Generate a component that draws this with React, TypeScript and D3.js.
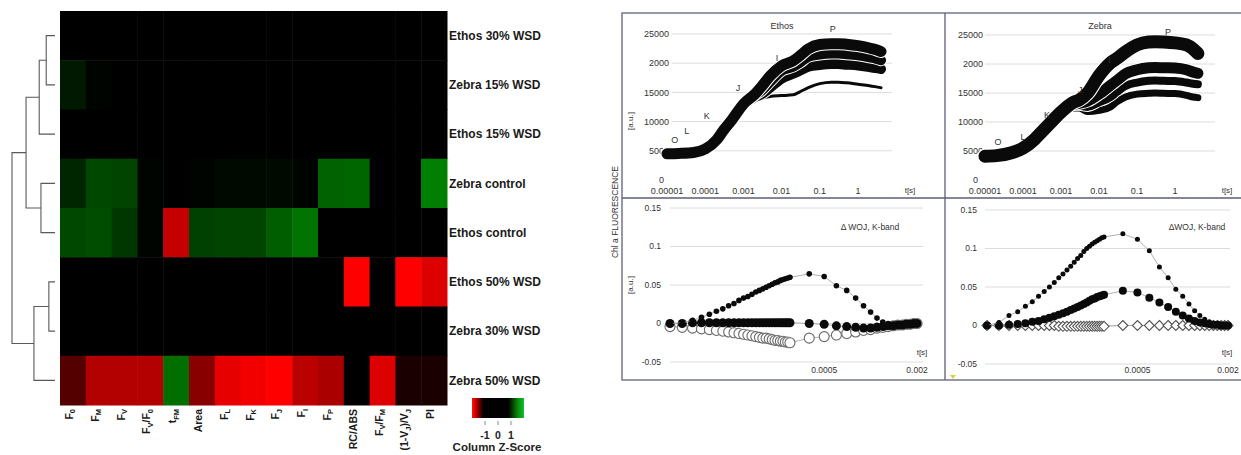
import React from "react";
import * as d3 from "d3";

// ---------------- Heatmap data ----------------
const rowLabels = [
  "Ethos 30% WSD",
  "Zebra 15% WSD",
  "Ethos 15% WSD",
  "Zebra control",
  "Ethos control",
  "Ethos 50% WSD",
  "Zebra 30% WSD",
  "Zebra 50% WSD",
];
const colLabels = [
  "F_0", "F_M", "F_V", "F_V/F_0", "t_{FM}", "Area", "F_L", "F_K", "F_J", "F_I", "F_P",
  "RC/ABS", "F_V/F_M", "(1-V_J)/V_J", "PI",
];
const zEthos30 = [0, 0, 0, 0, 0, 0, 0, 0, 0, 0, 0, 0, 0, 0, 0];
const zZebra15 = [0.3, 0.05, 0, 0, 0, 0, 0, 0, 0, 0, 0, 0, 0, 0, 0];
const zEthos15 = [0, 0, 0, 0, 0, 0, 0, 0, 0, 0, 0, 0, 0, 0, 0];
const zZebraCtrl = [0.45, 0.85, 0.8, 0.05, 0, 0.05, 0.1, 0.1, 0.1, 0.05, 1.15, 1.2, 0, 0, 1.5];
const zEthosCtrl = [0.85, 0.9, 0.65, 0.05, -2.3, 0.75, 0.8, 0.8, 1.1, 1.35, 0, 0, 0, 0, 0];
const zEthos50 = [0, 0, 0, 0, 0, 0, 0, 0, 0, 0, 0, -3, 0, -3, -2.6];
const zZebra30 = [0, 0, 0, 0, 0, 0, 0, 0, 0, 0, 0, 0, 0, 0, 0];
const zZebra50 = [-1.0, -2.1, -2.1, -2.1, 1.3, -1.6, -2.7, -2.85, -3, -2.2, -2.0, 0, -2.6, -0.3, -0.3];
const heatRows = [zEthos30, zZebra15, zEthos15, zZebraCtrl, zEthosCtrl, zEthos50, zZebra30, zZebra50];

// dendrogram: merges of rows (leaf indices) with heights
const dendroMerges = [
  { id: "a", left: 0, right: 1, h: 1.0 },
  { id: "b", left: "a", right: 2, h: 1.8 },
  { id: "c", left: 3, right: 4, h: 1.6 },
  { id: "d", left: "b", right: "c", h: 3.3 },
  { id: "e", left: 5, right: 6, h: 0.7 },
  { id: "f", left: "e", right: 7, h: 2.4 },
  { id: "g", left: "d", right: "f", h: 4.9 },
];
const legendTicks = [-1, 0, 1];

// ---------------- OJIP data ----------------
const ojipT = [1e-5, 2e-5, 5e-5, 1e-4, 2e-4, 3e-4, 5e-4, 1e-3, 2e-3, 3e-3, 5e-3, 1e-2, 2e-2, 3e-2, 5e-2, 0.1, 0.2, 0.3, 0.5, 1, 2, 3, 4];
const ethosC1 = [4500, 4550, 4700, 5300, 6900, 8500, 10300, 13000, 14700, 16000, 17800, 19550, 20400, 21250, 22450, 23200, 23350, 23350, 23250, 23000, 22600, 22300, 22000];
const ethosC2 = [4500, 4550, 4700, 5300, 6900, 8500, 10300, 12900, 14500, 15300, 16800, 18700, 19400, 20070, 21100, 21500, 21650, 21650, 21550, 21350, 21000, 20750, 20500];
const ethosC3 = [4500, 4550, 4700, 5300, 6900, 8500, 10200, 12800, 14200, 14700, 15800, 17350, 18200, 18700, 19400, 19700, 19850, 19850, 19750, 19600, 19350, 19150, 19000];
const ethosC4 = [4500, 4550, 4700, 5300, 6800, 8300, 10000, 12500, 13600, 14000, 14300, 14450, 14600, 15100, 15800, 16500, 16750, 16750, 16650, 16400, 16150, 15950, 15800];
const zebraC1 = [4100, 4200, 4700, 5500, 7000, 8200, 9700, 11700, 13300, 13800, 15000, 18000, 20200, 21000, 22100, 23300, 23800, 23850, 23800, 23650, 23300, 22600, 21800];
const zebraC2 = [4100, 4200, 4700, 5500, 7000, 8200, 9700, 11600, 13000, 13200, 13600, 14800, 16300, 17200, 18300, 19000, 19350, 19400, 19350, 19300, 19000, 18600, 18400];
const zebraC3 = [4100, 4200, 4700, 5500, 7000, 8200, 9600, 11500, 12800, 12800, 12600, 13400, 14300, 15200, 16200, 16800, 17100, 17150, 17100, 17050, 16800, 16600, 16500];
const zebraC4 = [4100, 4200, 4700, 5500, 6900, 8100, 9500, 11300, 12400, 12400, 11800, 12000, 12600, 13500, 14300, 14800, 14950, 15000, 14950, 14900, 14600, 14300, 14200];
const ojipTickValues = [1e-5, 1e-4, 1e-3, 1e-2, 0.1, 1];
const ojipTickLabels = ["0.00001", "0.0001", "0.001", "0.01", "0.1", "1"];
const fTickValues = [0, 5000, 10000, 15000, 20000, 25000];
const fTickLabels = ["0", "5000", "10000", "15000", "2000", "25000"];
const ethosLetters = [
  { t: 1.6e-5, f: 6800, s: "O" }, { t: 3.3e-5, f: 8500, s: "L" }, { t: 1.1e-4, f: 11050, s: "K" },
  { t: 7.2e-4, f: 15800, s: "J" }, { t: 7.6e-3, f: 20900, s: "I" }, { t: 0.22, f: 25850, s: "P" },
];
const zebraLetters = [
  { t: 2.2e-5, f: 6550, s: "O" }, { t: 1.0e-4, f: 7400, s: "L" }, { t: 4.3e-4, f: 11200, s: "K" },
  { t: 3.2e-3, f: 15500, s: "J" }, { t: 1.9e-2, f: 20700, s: "I" }, { t: 0.65, f: 25500, s: "P" },
];

// ---------------- Delta W_OJ data (time in microseconds) ----------------
const dwT = [50, 60, 70, 80, 90, 100, 110, 120, 130, 140, 150, 160, 170, 180, 190, 200, 210, 220, 230, 240, 250, 260, 270, 280, 290, 300,
  400, 500, 600, 700, 800, 900, 1000, 1100, 1200, 1300, 1400, 1500, 1600, 1700, 1800, 1900, 2000];
const ethosDW1 = [0, 0.001, 0.004, 0.008, 0.012, 0.016, 0.019, 0.023, 0.026, 0.03, 0.033, 0.035, 0.038, 0.041, 0.043, 0.045, 0.047, 0.049, 0.051, 0.053, 0.054, 0.056, 0.057, 0.058, 0.059, 0.06,
  0.0645, 0.061, 0.049, 0.043, 0.033, 0.023, 0.015, 0.007, 0.002, 0, -0.001, -0.002, -0.002, -0.001, -0.001, 0, 0];
const ethosDW2 = [0, 0, 0.001, 0.001, 0.001, 0.001, 0.001, 0.001, 0.001, 0.001, 0.001, 0.001, 0.001, 0.001, 0.001, 0.001, 0.001, 0.001, 0.001, 0.001, 0.001, 0.001, 0.001, 0.001, 0.001, 0.001,
  0, -0.001, -0.003, -0.004, -0.005, -0.006, -0.006, -0.005, -0.004, -0.003, -0.003, -0.002, -0.002, -0.001, -0.001, 0, 0];
const ethosDW3 = [-0.004, -0.005, -0.006, -0.007, -0.008, -0.009, -0.01, -0.011, -0.012, -0.013, -0.014, -0.015, -0.016, -0.017, -0.018, -0.019, -0.019, -0.02, -0.021, -0.022, -0.022, -0.023, -0.023, -0.024, -0.024, -0.025,
  -0.019, -0.017, -0.015, -0.013, -0.011, -0.009, -0.008, -0.006, -0.005, -0.004, -0.003, -0.002, -0.002, -0.001, -0.001, 0, 0];
const zebraDW1 = [0, 0.004, 0.013, 0.018, 0.025, 0.031, 0.038, 0.044, 0.05, 0.056, 0.062, 0.067, 0.072, 0.077, 0.082, 0.087, 0.091, 0.096, 0.1, 0.103, 0.106, 0.108, 0.11, 0.112, 0.114, 0.115,
  0.119, 0.112, 0.097, 0.076, 0.062, 0.047, 0.038, 0.028, 0.019, 0.013, 0.008, 0.005, 0.003, 0.002, 0.001, 0, 0];
const zebraDW2 = [0, 0, 0.001, 0.002, 0.003, 0.005, 0.006, 0.008, 0.01, 0.012, 0.014, 0.016, 0.018, 0.02, 0.022, 0.024, 0.026, 0.028, 0.03, 0.032, 0.034, 0.035, 0.037, 0.038, 0.039, 0.04,
  0.045, 0.043, 0.036, 0.03, 0.024, 0.018, 0.013, 0.009, 0.006, 0.004, 0.003, 0.002, 0.001, 0.001, 0, 0, 0];
const zebraDW3 = [0, 0, 0, 0, 0, 0, 0, 0, 0, 0, -0.001, -0.001, -0.001, -0.001, -0.001, -0.001, -0.001, -0.001, -0.001, -0.001, -0.001, -0.001, -0.001, -0.001, -0.001, -0.001,
  0, 0, 0, 0, 0, 0, 0, 0, 0, 0, 0, 0, 0, 0, 0, 0, 0];
const dwTickValues = [500, 2000];
const dwTickLabels = ["0.0005", "0.002"];
const dwYTickValues = [-0.05, 0, 0.05, 0.1, 0.15];
const dwYTickLabels = ["-0.05", "0", "0.05", "0.1", "0.15"];

const FONT = "'Liberation Sans', Arial, Helvetica, sans-serif";

function parseSub(s: string) {
  const re = /_(\{[^}]*\}|.)/g;
  const parts: { t: string; sub: boolean }[] = [];
  let last = 0;
  let m: RegExpExecArray | null;
  while ((m = re.exec(s))) {
    if (m.index > last) parts.push({ t: s.slice(last, m.index), sub: false });
    let c = m[1];
    if (c[0] === "{") c = c.slice(1, -1);
    parts.push({ t: c, sub: true });
    last = re.lastIndex;
  }
  if (last < s.length) parts.push({ t: s.slice(last), sub: false });
  return parts;
}

function Heatmap() {
  const x = d3.scaleBand<string>().domain(colLabels).range([60, 447]);
  const y = d3.scaleBand<string>().domain(rowLabels).range([11, 405]);
  const color = d3.scaleLinear<string>().domain([-3, 0, 3]).range(["#ff0000", "#000000", "#00ff00"]).clamp(true);
  const dx = d3.scaleLinear().domain([0, 4.9]).range([55, 12]);

  const pos: Record<string, { x: number; y: number }> = {};
  const nodeOf = (k: string | number) =>
    typeof k === "number" ? { x: dx(0), y: (y(rowLabels[k]) as number) + y.bandwidth() / 2 } : pos[k];
  const segs: string[] = [];
  dendroMerges.forEach((mg) => {
    const a = nodeOf(mg.left);
    const b = nodeOf(mg.right);
    const nx = dx(mg.h);
    pos[mg.id] = { x: nx, y: (a.y + b.y) / 2 };
    segs.push(`M${a.x},${a.y}H${nx}V${b.y}H${b.x}`);
  });

  const lg = d3.scaleLinear().domain([-2, 2]).range([472, 524]);

  return (
    <g>
      {heatRows.map((row, ri) =>
        row.map((v, ci) => (
          <rect key={`${ri}-${ci}`} x={x(colLabels[ci])} y={y(rowLabels[ri])}
            width={x.bandwidth() + 0.5} height={y.bandwidth() + 0.5} fill={color(v)} />
        ))
      )}
      {segs.map((d, i) => (
        <path key={i} d={d} fill="none" stroke="#5a5a5a" strokeWidth={1.1} />
      ))}
      {rowLabels.map((r) => (
        <text key={r} x={449} y={(y(r) as number) + y.bandwidth() / 2} dy="0.35em"
          fontSize={12} fontWeight="bold" fill="#1a1a1a" fontFamily={FONT}>{r}</text>
      ))}
      {colLabels.map((c) => {
        const cx = (x(c) as number) + x.bandwidth() / 2;
        const parts = parseSub(c);
        let state = false;
        return (
          <text key={c} x={cx} y={409} transform={`rotate(-90,${cx},409)`} dy="0.35em"
            textAnchor="end" fontSize={10.5} fontWeight="bold" fill="#1a1a1a" fontFamily={FONT}>
            {parts.map((p, i) => {
              let dyv = 0;
              if (p.sub && !state) dyv = 2.5;
              if (!p.sub && state) dyv = -2.5;
              state = p.sub;
              return (
                <tspan key={i} dy={dyv} fontSize={p.sub ? 7.5 : 10.5}>{p.t}</tspan>
              );
            })}
          </text>
        );
      })}
      <defs>
        <linearGradient id="keyGrad" x1="0" x2="1" y1="0" y2="0">
          <stop offset="0%" stopColor="#ff1010" />
          <stop offset="7%" stopColor="#d00000" />
          <stop offset="22%" stopColor="#000000" />
          <stop offset="70%" stopColor="#000000" />
          <stop offset="88%" stopColor="#0a8a0a" />
          <stop offset="100%" stopColor="#10c030" />
        </linearGradient>
      </defs>
      <rect x={lg(-2)} y={398} width={lg(2) - lg(-2)} height={20} fill="url(#keyGrad)" />
      {legendTicks.map((t) => (
        <g key={t}>
          <line x1={lg(t)} x2={lg(t)} y1={421} y2={425} stroke="#888" strokeWidth={1} />
          <text x={lg(t)} y={439} textAnchor="middle" fontSize={10.5} fontWeight="bold" fill="#222" fontFamily={FONT}>{t}</text>
        </g>
      ))}
      <text x={497} y={451} textAnchor="middle" fontSize={11.5} fontWeight="bold" fill="#222" fontFamily={FONT}>Column Z-Score</text>
    </g>
  );
}

type Curve = { values: number[]; w: number };

function OjipPanel(props: {
  x0: number; x1: number; yB: number; yT: number; gridL: number; gridR: number; labelR: number;
  curves: Curve[]; letters: { t: number; f: number; s: string }[]; title: string; tsX: number;
}) {
  const { x0, x1, yB, yT, gridL, gridR, labelR, curves, letters, title, tsX } = props;
  const xs = d3.scaleLog().domain([1e-5, 1]).range([x0, x1]);
  const ys = d3.scaleLinear().domain([0, 25000]).range([yB, yT]);
  const line = d3.line<number>().x((_, i) => xs(ojipT[i])).y((d) => ys(d)).curve(d3.curveMonotoneX);
  return (
    <g fontFamily={FONT}>
      {fTickValues.filter((v) => v > 0).map((v) => (
        <line key={v} x1={gridL} x2={gridR} y1={ys(v)} y2={ys(v)} stroke="#dcdcdc" strokeWidth={1} />
      ))}
      {fTickValues.map((v, i) => (
        <text key={v} x={v === 0 ? labelR - 5 : labelR} y={ys(v)} dy="0.35em" textAnchor="end" fontSize={9} fill="#333">{fTickLabels[i]}</text>
      ))}
      {ojipTickValues.map((v, i) => (
        <text key={v} x={xs(v)} y={194} textAnchor="middle" fontSize={9} fill="#333">{ojipTickLabels[i]}</text>
      ))}
      <text x={tsX} y={193} textAnchor="middle" fontSize={8} fill="#333">t[s]</text>
      <text x={(gridL + gridR) / 2} y={29} textAnchor="middle" fontSize={9} fill="#333">{title}</text>
      {curves.slice().reverse().map((c, i) => (
        <g key={i}>
          <path d={line(c.values) || ""} fill="none" stroke="#ffffff" strokeWidth={c.w + 2} strokeLinecap="round" strokeLinejoin="round" />
          <path d={line(c.values) || ""} fill="none" stroke="#0a0a0a" strokeWidth={c.w} strokeLinecap="round" strokeLinejoin="round" />
        </g>
      ))}
      {letters.map((l) => (
        <text key={l.s} x={xs(l.t)} y={ys(l.f)} dy="0.35em" textAnchor="middle" fontSize={9} fill="#333">{l.s}</text>
      ))}
    </g>
  );
}

type DwSeries = { values: number[]; kind: "dot" | "circle" | "diamond"; r: number };

function DwPanel(props: {
  x0: number; x1: number; yB: number; yT: number; gridL: number; gridR: number; labelR: number;
  series: DwSeries[]; title: string; titleX: number; tsX: number;
}) {
  const { x0, x1, yB, yT, gridL, gridR, labelR, series, title, titleX, tsX } = props;
  const xs = d3.scaleLog().domain([50, 2000]).range([x0, x1]);
  const ys = d3.scaleLinear().domain([-0.05, 0.15]).range([yB, yT]);
  const line = d3.line<number>().x((_, i) => xs(dwT[i])).y((d) => ys(d));
  return (
    <g fontFamily={FONT}>
      {dwYTickValues.map((v, i) => (
        <g key={v}>
          <line x1={gridL} x2={gridR} y1={ys(v)} y2={ys(v)} stroke="#dcdcdc" strokeWidth={1} />
          <text x={labelR} y={ys(v)} dy="0.35em" textAnchor="end" fontSize={8.5} fill="#333">{dwYTickLabels[i]}</text>
        </g>
      ))}
      {dwTickValues.map((v, i) => (
        <text key={v} x={xs(v)} y={373} textAnchor="middle" fontSize={8.5} fill="#333">{dwTickLabels[i]}</text>
      ))}
      <text x={tsX} y={355} textAnchor="middle" fontSize={8} fill="#333">t[s]</text>
      <text x={titleX} y={230} textAnchor="middle" fontSize={8.5} fill="#333">{title}</text>
      {series.map((s, si) => (
        <g key={si}>
          <path d={line(s.values) || ""} fill="none" stroke="#9a9a9a" strokeWidth={0.8} />
          {s.values.map((v, i) => {
            const cx = xs(dwT[i]);
            const cy = ys(v);
            if (s.kind === "dot") return <circle key={i} cx={cx} cy={cy} r={s.r} fill="#0a0a0a" />;
            if (s.kind === "circle")
              return <circle key={i} cx={cx} cy={cy} r={s.r} fill="#ffffff" stroke="#6a6a6a" strokeWidth={1.1} />;
            const r = s.r;
            return (
              <path key={i} d={`M${cx},${cy - r}L${cx + r},${cy}L${cx},${cy + r}L${cx - r},${cy}Z`}
                fill="#ffffff" stroke="#555" strokeWidth={1.1} />
            );
          })}
        </g>
      ))}
    </g>
  );
}

export default function App() {
  return (
    <svg width={1241} height={455} style={{ position: "absolute", left: 0, top: 0, background: "#fff" }}>
      <rect x={0} y={0} width={1241} height={455} fill="#ffffff" />
      <Heatmap />

      <rect x={622} y={13} width={625} height={367} fill="none" stroke="#75758f" strokeWidth={1.5} />
      <line x1={945} x2={945} y1={13} y2={380} stroke="#5c5c78" strokeWidth={1.3} />
      <line x1={622} x2={1241} y1={198} y2={198} stroke="#5c5c78" strokeWidth={1.3} />

      <OjipPanel x0={667} x1={858} yB={180} yT={34} gridL={672} gridR={892} labelR={669}
        curves={[{ values: ethosC1, w: 11 }, { values: ethosC2, w: 10 }, { values: ethosC3, w: 10 }, { values: ethosC4, w: 3 }]}
        letters={ethosLetters} title="Ethos" tsX={910} />
      <OjipPanel x0={985} x1={1175} yB={180} yT={35} gridL={985} gridR={1215} labelR={983}
        curves={[{ values: zebraC1, w: 13 }, { values: zebraC2, w: 11 }, { values: zebraC3, w: 8 }, { values: zebraC4, w: 7 }]}
        letters={zebraLetters} title="Zebra" tsX={1227} />

      <DwPanel x0={670} x1={917} yB={362} yT={208} gridL={670} gridR={923} labelR={661}
        series={[{ values: ethosDW3, kind: "circle", r: 5 }, { values: ethosDW2, kind: "dot", r: 4.5 }, { values: ethosDW1, kind: "dot", r: 2.8 }]}
        title="Δ WOJ, K-band" titleX={870} tsX={922} />
      <DwPanel x0={987} x1={1228} yB={364} yT={210} gridL={985} gridR={1230} labelR={977}
        series={[{ values: zebraDW3, kind: "diamond", r: 5 }, { values: zebraDW2, kind: "dot", r: 4 }, { values: zebraDW1, kind: "dot", r: 2.5 }]}
        title="ΔWOJ, K-band" titleX={1197} tsX={1227} />

      <text x={615} y={212} transform="rotate(-90,615,212)" textAnchor="middle" dy="0.35em" fontSize={8.5} fill="#333" fontFamily={FONT}>Chl a FLUORESCENCE</text>
      <text x={630} y={121} transform="rotate(-90,630,121)" textAnchor="middle" dy="0.35em" fontSize={8} fill="#333" fontFamily={FONT}>[a.u.]</text>
      <text x={630} y={285} transform="rotate(-90,630,285)" textAnchor="middle" dy="0.35em" fontSize={8} fill="#333" fontFamily={FONT}>[a.u.]</text>
      <path d="M950,375L956,375L953,379Z" fill="#e8c840" />
    </svg>
  );
}
